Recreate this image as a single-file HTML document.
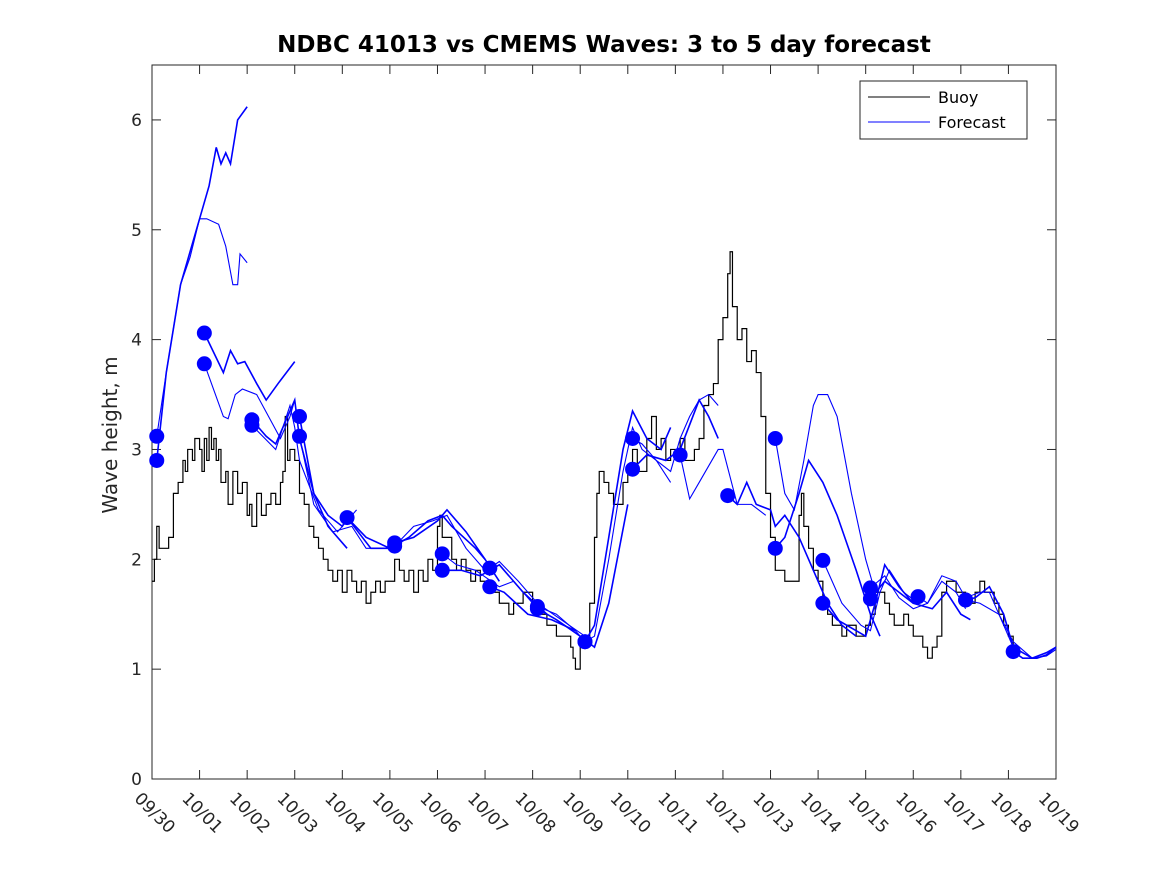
<!DOCTYPE html>
<html><head><meta charset="utf-8"><style>
body{margin:0;background:#fff;}
svg{display:block;font-family:"DejaVu Sans","Liberation Sans",sans-serif;}
</style></head><body>
<svg id="c" width="1167" height="875"></svg>
<script>
const xTicks=["09/30","10/01","10/02","10/03","10/04","10/05","10/06","10/07","10/08","10/09","10/10","10/11","10/12","10/13","10/14","10/15","10/16","10/17","10/18","10/19"];
const yTicks=[0,1,2,3,4,5,6];
const buoyT=[0,0.05,0.1,0.15,0.25,0.35,0.45,0.55,0.65,0.7,0.75,0.85,0.9,1.0,1.05,1.1,1.15,1.2,1.25,1.3,1.35,1.4,1.45,1.55,1.6,1.7,1.8,1.9,2.0,2.05,2.1,2.2,2.3,2.4,2.5,2.6,2.7,2.75,2.8,2.85,2.9,3.0,3.1,3.2,3.3,3.4,3.5,3.6,3.7,3.8,3.9,4.0,4.1,4.2,4.3,4.4,4.5,4.6,4.7,4.8,4.9,5.0,5.1,5.2,5.3,5.4,5.5,5.6,5.7,5.8,5.9,6.0,6.05,6.1,6.2,6.3,6.4,6.5,6.6,6.7,6.8,6.9,7.0,7.1,7.2,7.3,7.4,7.5,7.6,7.7,7.8,7.9,8.0,8.1,8.2,8.3,8.4,8.5,8.6,8.7,8.8,8.85,8.9,9.0,9.1,9.2,9.3,9.35,9.4,9.5,9.6,9.7,9.8,9.9,10.0,10.1,10.2,10.3,10.4,10.5,10.6,10.7,10.8,10.9,11.0,11.1,11.2,11.3,11.4,11.5,11.6,11.7,11.8,11.9,12.0,12.1,12.15,12.2,12.3,12.4,12.5,12.6,12.7,12.8,12.9,13.0,13.1,13.2,13.3,13.4,13.5,13.6,13.65,13.7,13.8,13.9,14.0,14.1,14.2,14.3,14.4,14.5,14.6,14.7,14.8,14.9,15.0,15.1,15.2,15.3,15.4,15.5,15.6,15.7,15.8,15.9,16.0,16.1,16.2,16.3,16.4,16.5,16.6,16.7,16.8,16.9,17.0,17.1,17.2,17.3,17.4,17.5,17.6,17.7,17.8,17.9,18.0,18.1,18.2];
const buoyV=[1.8,2.0,2.3,2.1,2.1,2.2,2.6,2.7,2.9,2.8,3.0,2.9,3.1,3.0,2.8,3.1,2.9,3.2,3.0,3.1,2.9,3.0,2.7,2.8,2.5,2.8,2.6,2.7,2.4,2.5,2.3,2.6,2.4,2.5,2.6,2.5,2.7,2.8,3.3,2.9,3.0,2.9,2.6,2.5,2.3,2.2,2.1,2.0,1.9,1.8,1.9,1.7,1.9,1.8,1.7,1.8,1.6,1.7,1.8,1.7,1.8,1.8,2.0,1.9,1.8,1.9,1.7,1.9,1.8,2.0,1.9,2.3,2.4,2.2,2.2,2.0,1.9,2.0,1.9,1.8,1.9,1.8,1.8,1.7,1.7,1.6,1.6,1.5,1.6,1.6,1.7,1.7,1.6,1.5,1.5,1.4,1.4,1.3,1.3,1.3,1.2,1.1,1.0,1.2,1.3,1.6,2.2,2.6,2.8,2.7,2.6,2.5,2.5,2.7,2.8,3.0,2.8,2.8,3.1,3.3,3.0,3.1,2.9,3.0,3.0,3.1,2.9,2.9,3.0,3.1,3.4,3.5,3.6,4.0,4.2,4.6,4.8,4.3,4.0,4.1,3.8,3.9,3.7,3.3,2.6,2.2,1.9,1.9,1.8,1.8,1.8,2.4,2.6,2.3,2.1,1.9,1.8,1.6,1.5,1.4,1.4,1.3,1.4,1.4,1.3,1.3,1.4,1.5,1.7,1.7,1.6,1.5,1.4,1.4,1.5,1.4,1.3,1.3,1.2,1.1,1.2,1.3,1.7,1.8,1.8,1.7,1.7,1.6,1.6,1.7,1.8,1.7,1.7,1.6,1.5,1.4,1.3,1.2];
const fcT=[
[0.1,0.3,0.6,0.8,1.0,1.2,1.35,1.45,1.55,1.65,1.8,2.0],
[0.1,0.3,0.6,0.8,1.0,1.15,1.4,1.55,1.7,1.8,1.85,2.0],
[1.1,1.5,1.65,1.8,1.95,2.2,2.4,2.65,3.0],
[1.1,1.5,1.6,1.75,1.9,2.2,2.45,2.7,2.9,3.0],
[2.1,2.4,2.6,2.85,3.0,3.1,3.4,3.7,4.1],
[2.1,2.6,2.9,3.0,3.1,3.5,3.9,4.3],
[3.1,3.4,3.7,4.0,4.1,4.6,5.1],
[3.1,3.4,3.8,4.2,4.5,5.1],
[4.1,4.5,5.0,5.4,5.8,6.1,6.3,6.8,7.0],
[5.1,5.5,5.9,6.2,6.6,7.0,7.1],
[5.1,5.5,6.0,6.2,6.6,7.0,7.3],
[6.1,6.4,6.8,7.3,7.6,8.0],
[6.1,6.5,6.9,7.3,7.8,8.3],
[7.1,7.3,7.7,8.1,8.6,9.1],
[7.1,7.4,7.9,8.4,8.9],
[8.1,8.5,8.9,9.1],
[8.1,8.5,9.0,9.3,9.6,10.0],
[9.1,9.3,9.6,9.9,10.1,10.3,10.6,10.9],
[9.1,9.3,9.6,9.9,10.1,10.4,10.7,10.9],
[10.1,10.3,10.6,10.9,11.1,11.3,11.5,11.7,11.9],
[10.1,10.4,10.8,11.1,11.5,11.7,11.9],
[11.1,11.3,11.5,11.7,11.9,12.0,12.3,12.6,12.9],
[12.1,12.3,12.5,12.7,13.0,13.1,13.3,13.6,13.9,14.2,14.5,14.8],
[13.1,13.3,13.5,13.7,13.9,14.0,14.2,14.4,14.7,15.0,15.2],
[13.1,13.3,13.6,13.8,14.1,14.4,14.8,15.1,15.3],
[14.1,14.5,14.9,15.1,15.3,15.5,15.8,16.1],
[14.1,14.4,14.8,15.0,15.2,15.4,15.7,16.0],
[15.1,15.4,15.7,16.0,16.3,16.6,16.9,17.1],
[15.1,15.4,15.7,16.0,16.4,16.7,17.0,17.2],
[16.1,16.3,16.6,16.9,17.1,17.4,17.6,17.9,18.1],
[17.1,17.3,17.6,17.9,18.1,18.5,18.8,19.0],
[17.1,17.4,17.8,18.1,18.5,18.8,19.0],
[18.1,18.3,18.6,18.8,19.0]];
const fcV=[
[2.9,3.7,4.5,4.8,5.1,5.4,5.75,5.6,5.7,5.6,6.0,6.12],
[3.12,3.7,4.5,4.75,5.1,5.1,5.05,4.85,4.5,4.5,4.78,4.7],
[4.06,3.7,3.9,3.78,3.8,3.6,3.45,3.6,3.8],
[3.78,3.3,3.28,3.5,3.55,3.5,3.3,3.1,3.3,3.45],
[3.27,3.12,3.05,3.3,3.45,3.1,2.6,2.3,2.1],
[3.22,3.0,3.4,3.2,2.9,2.45,2.25,2.45],
[3.3,2.6,2.4,2.3,2.38,2.1,2.1],
[3.12,2.5,2.25,2.3,2.1,2.1],
[2.38,2.2,2.1,2.2,2.35,2.4,2.3,2.1,2.0],
[2.12,2.3,2.35,2.4,2.1,1.9,1.85],
[2.15,2.2,2.35,2.45,2.25,2.0,1.8],
[2.05,1.95,1.9,1.75,1.8,1.6],
[1.9,1.9,1.85,1.95,1.7,1.5],
[1.92,1.98,1.8,1.6,1.45,1.3],
[1.75,1.7,1.5,1.45,1.35],
[1.57,1.5,1.35,1.25],
[1.55,1.45,1.3,1.2,1.6,2.5],
[1.25,1.3,2.0,2.8,3.2,3.0,2.9,2.7],
[1.25,1.4,2.2,3.0,3.35,3.1,3.0,3.2],
[3.1,3.05,2.9,2.8,3.1,3.3,3.45,3.5,3.4],
[2.82,2.95,2.9,3.0,3.45,3.3,3.1],
[2.95,2.55,2.7,2.85,3.0,3.0,2.5,2.5,2.4],
[2.58,2.5,2.7,2.5,2.45,2.3,2.4,2.2,1.9,1.6,1.4,1.3],
[3.1,2.6,2.45,2.9,3.4,3.5,3.5,3.3,2.6,2.0,1.7],
[2.1,2.2,2.6,2.9,2.7,2.4,1.9,1.5,1.3],
[1.99,1.6,1.4,1.35,1.7,1.9,1.7,1.6],
[1.6,1.45,1.35,1.3,1.6,1.95,1.75,1.6],
[1.74,1.85,1.65,1.55,1.6,1.8,1.7,1.55],
[1.64,1.8,1.7,1.6,1.55,1.7,1.5,1.45],
[1.66,1.6,1.85,1.8,1.65,1.7,1.7,1.4,1.2],
[1.63,1.65,1.75,1.5,1.2,1.1,1.15,1.2],
[1.63,1.6,1.5,1.25,1.1,1.12,1.18],
[1.16,1.1,1.1,1.13,1.2]];

const NS="http://www.w3.org/2000/svg";
const svg=document.getElementById('c');
const L=152,R=1056,T=65,B=779;
const xS=d=>L+(R-L)*d/19;
const yS=v=>B-(B-T)*v/6.5;
function mk(tag,attrs,parent){const e=document.createElementNS(NS,tag);for(const k in attrs)e.setAttribute(k,attrs[k]);(parent||svg).appendChild(e);return e;}

const frame=mk('rect',{x:L,y:T,width:R-L,height:B-T,fill:'#fff',stroke:'#262626','stroke-width':1});



const xg=mk('g',{});


xTicks.forEach((lab,i)=>{
  const x=xS(i);
  mk('line',{x1:x,x2:x,y1:B,y2:B-9,stroke:'#262626'},xg);
  mk('line',{x1:x,x2:x,y1:T,y2:T+9,stroke:'#262626'},xg);
  const t=mk('text',{x:x-10,y:B+12,'font-size':17,fill:'#262626',transform:`rotate(45 ${x-10} ${B+12})`,'dominant-baseline':'hanging'},xg);
  t.textContent=lab;
  
  
});
const yg=mk('g',{});


yTicks.forEach(v=>{
  const y=yS(v);
  mk('line',{x1:L,x2:L+9,y1:y,y2:y,stroke:'#262626'},yg);
  mk('line',{x1:R,x2:R-9,y1:y,y2:y,stroke:'#262626'},yg);
  const t=mk('text',{x:L-10,y:y+6,'font-size':17,fill:'#262626','text-anchor':'end'},yg);
  t.textContent=v;
  
  
});
const yt=mk('text',{x:117,y:435,'font-size':20,fill:'#262626','text-anchor':'middle',transform:'rotate(-90 117 435)'});
yt.textContent='Wave height, m';


const tt=mk('text',{x:604,y:52,'font-size':23,'font-weight':'bold',fill:'#000','text-anchor':'middle'});
tt.textContent='NDBC 41013 vs CMEMS Waves: 3 to 5 day forecast';



let d='';
buoyT.forEach((t,i)=>{const x=xS(t),y=yS(buoyV[i]);if(i===0)d+=`M${x},${y}`;else d+=`H${x}V${y}`;});
const bp=mk('path',{d:d,fill:'none',stroke:'#000','stroke-width':1.2});



fcT.forEach((ts,i)=>{
  const pts=ts.map((t,j)=>xS(t)+','+yS(fcV[i][j])).join(' ');
  const pl=mk('polyline',{points:pts,fill:'none',stroke:'#0000ff','stroke-width':(i%2===0?1.6:1.1)});
  
  
});
fcT.forEach((ts,i)=>{
  const c=mk('circle',{cx:xS(ts[0]),cy:yS(fcV[i][0]),r:7.5,fill:'#0000ff'});
  
  
});

const lg=mk('g',{});


mk('rect',{x:860,y:81,width:167,height:58,fill:'#fff',stroke:'#262626'},lg);
mk('line',{x1:868,x2:930,y1:97,y2:97,stroke:'#000'},lg);
mk('line',{x1:868,x2:930,y1:122,y2:122,stroke:'#0000ff'},lg);
const l1=mk('text',{x:938,y:103,'font-size':16,fill:'#000'},lg);l1.textContent='Buoy';


const l2=mk('text',{x:938,y:128,'font-size':16,fill:'#000'},lg);l2.textContent='Forecast';


</script>
</body></html>
